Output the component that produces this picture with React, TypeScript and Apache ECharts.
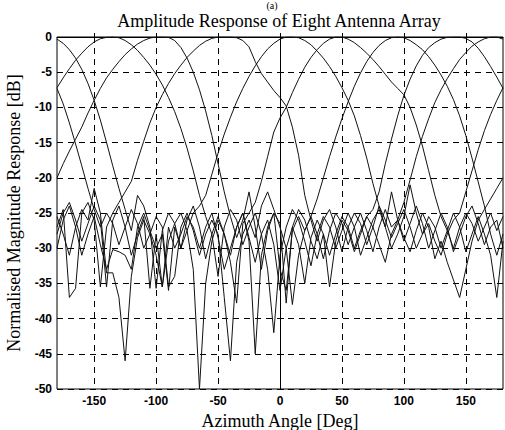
import React, { useEffect, useRef } from "react";
import * as echarts from "echarts";

// Azimuth sampling (deg)
const angles = [
  -180, -175, -170, -165, -160, -155, -150, -145, -140, -135, -130, -125,
  -120, -115, -110, -105, -100, -95, -90, -85, -80, -75, -70, -65,
  -60, -55, -50, -45, -40, -35, -30, -25, -20, -15, -10, -5,
  0, 5, 10, 15, 20, 25, 30, 35, 40, 45, 50, 55,
  60, 65, 70, 75, 80, 85, 90, 95, 100, 105, 110, 115,
  120, 125, 130, 135, 140, 145, 150, 155, 160, 165, 170, 175,
  180,
];

// Normalised magnitude (dB) of each of the eight beams
const beamA = [
  -0.3, -0.9, -1.8, -3.0, -4.6, -6.6, -9.0, -11.8, -15, -18.3, -21.5, -24.5,
  -27.5, -22.5, -24, -27, -35.7, -27.5, -25, -26.5, -30, -26, -24, -27,
  -31.5, -28, -25.5, -28, -31, -27, -25, -28.5, -32, -28, -26, -29.5,
  -36, -30, -38, -31, -27.5, -25.5, -28, -31.5, -27.5, -25, -26.5, -29.5,
  -27, -25, -27.5, -30.5, -27, -24.5, -27, -26, -23.5, -20.3, -17.0, -14.1,
  -11.6, -9.3, -7.5, -5.9, -4.5, -3.2, -2.2, -1.3, -0.7, -0.25, 0, 0,
  -0.3,
];
const beamB = [
  -7.2, -5.8, -4.5, -3.3, -2.3, -1.4, -0.7, -0.25, -0.05, 0, -0.1, -0.5,
  -1.1, -1.9, -2.9, -4.0, -5.3, -6.8, -8.6, -10.6, -13, -15.8, -19, -22.5,
  -25.5, -28, -34, -27, -24.5, -26, -29.5, -27, -25, -28, -33, -42,
  -31, -27, -24.5, -26, -29, -32.5, -28, -25.5, -27, -30, -27.5, -25,
  -27, -31, -28.5, -26, -24.5, -27, -30, -28, -25.5, -21, -25, -28,
  -26.5, -29, -31, -28, -26, -25, -22, -19, -16, -13.3, -11, -9,
  -7.2,
];
const beamC = [
  -20, -18, -16.2, -14.5, -12.8, -10.8, -9.0, -7.3, -5.8, -4.6, -3.5, -2.5,
  -1.7, -1.0, -0.5, -0.15, 0, 0, -0.05, -0.5, -1.5, -3.0, -5.0, -7.5,
  -10.5, -14, -18, -22, -25.5, -28.5, -26, -22, -27, -33, -27.5, -25,
  -26.5, -37.8, -27, -24.5, -26, -29, -31.5, -28, -35.5, -29, -26, -27.5,
  -30.5, -28, -25.5, -27, -29.5, -32, -28, -26, -28.5, -30.5, -27.5, -25,
  -27, -31.5, -29, -32, -34.5, -37, -33, -29, -26, -24.5, -23, -21.5,
  -20,
];
const beamD = [
  -27, -24.5, -37, -35.7, -25, -23.5, -26, -35.5, -27, -25, -23.5, -22,
  -20.5, -17.5, -14.8, -12.2, -10, -8.2, -6.6, -5.2, -4.0, -2.9, -2.0, -1.2,
  -0.6, -0.2, 0, 0, 0, -0.1, -0.5, -1.4, -3.5, -5.2, -6.4, -7.6,
  -8.6, -9.8, -12.8, -16.8, -22.5, -26, -29, -26, -24.5, -27, -30.5, -27,
  -25, -26.5, -29.5, -27, -24, -26, -28.5, -26.5, -24.5, -27, -30, -28,
  -25.5, -27, -30, -27.5, -25, -27, -30.5, -28, -25.5, -28, -31, -37,
  -29,
];
const beamE = [
  -30, -26, -24, -27, -31, -28, -25.5, -29.5, -33, -30.2, -30.5, -31,
  -33, -27, -25, -27.5, -30, -28, -36, -27, -30, -27.5, -25, -24,
  -22.5, -19.5, -16.5, -13.8, -11.4, -9.2, -7.3, -5.6, -4.1, -2.8, -1.7, -0.9,
  -0.3, 0, 0, -0.1, -0.5, -1.1, -2.0, -3.0, -4.2, -5.6, -7.2, -9.0,
  -11.2, -14, -17.2, -20.8, -24, -27, -22, -26, -29, -26.5, -24, -26.5,
  -30, -27.5, -25, -27, -30.5, -28, -25.5, -24, -26.5, -29.5, -27, -26,
  -30,
];
const beamF = [
  -25.5, -28, -31, -27, -24.5, -26, -21.5, -25, -33.5, -33.5, -37, -46,
  -34, -28.5, -26, -28, -31, -35.5, -29, -26.5, -25, -27.5, -33, -50,
  -35, -29, -26, -28, -32, -37.8, -26.5, -25, -23.5, -20.5, -17, -13.5,
  -11.5, -10, -7.9, -6.0, -4.3, -2.9, -1.8, -0.9, -0.3, 0, 0, -0.3,
  -0.8, -1.5, -2.3, -3.2, -4.2, -5.3, -6.4, -7.3, -8.2, -10, -12.5, -15.5,
  -19, -22.5, -25.5, -27.5, -30, -27, -25, -26.5, -29, -27, -25, -27.5,
  -25.5,
];
const beamG = [
  -28, -25, -23.5, -26, -29, -26.5, -24, -26, -35.5, -26, -24, -27,
  -31, -28, -25.5, -35.7, -28, -35.5, -27, -30, -28, -25.5, -27, -30,
  -27, -25, -28.5, -33, -30, -27, -25, -29, -45, -31, -27, -25,
  -33, -36, -27.5, -25.5, -27.5, -25.5, -23, -20, -17, -14.2, -11.6, -9.2,
  -7.0, -5.1, -3.5, -2.2, -1.2, -0.5, -0.1, 0, -0.1, -0.5, -1.1, -1.8,
  -2.8, -4.0, -5.4, -7.0, -8.9, -11.2, -14, -17.2, -20.6, -24, -28, -31,
  -28,
];
const beamH = [
  -7.3, -9.5, -12.2, -15.2, -18.3, -21.5, -24.5, -27, -25, -26.5, -29.5, -27,
  -24.5, -26.5, -30, -28, -25.5, -27, -35.5, -34, -27, -25, -27.5, -31,
  -28, -26, -28, -37, -46, -32, -28, -26, -28.5, -24, -22, -24.5,
  -27, -30, -27, -29.5, -35, -28.5, -26, -28, -31, -28, -25.5, -27,
  -30, -27.5, -25.5, -24.5, -22, -18, -14.5, -11.2, -8.3, -6.0, -4.1, -2.6,
  -1.5, -0.8, -0.3, -0.05, 0, 0, -0.2, -0.7, -1.6, -2.8, -4.2, -5.7,
  -7.3,
];

const beams = [beamA, beamB, beamC, beamD, beamE, beamF, beamG, beamH];

const xTicks = [-150, -100, -50, 0, 50, 100, 150];
const xMin = -180;
const xMax = 180;
const yMin = -50;
const yMax = 0;
const yStep = 5;

const panelText = "(a)";
const titleText = "Amplitude Response of Eight Antenna Array";
const xName = "Azimuth Angle [Deg]";
const yName = "Normalised Magnitude Response [dB]";

export default function App() {
  const ref = useRef<HTMLDivElement>(null);

  useEffect(() => {
    document.body.style.margin = "0";
    if (!ref.current) return;
    const chart = echarts.init(ref.current, undefined, { renderer: "svg" });
    const serif = "'Liberation Serif', 'Times New Roman', serif";
    const sans = "'Liberation Sans', Arial, sans-serif";
    const dash = { color: "#000", width: 1, type: [6, 5] as number[] };

    chart.setOption({
      animation: false,
      backgroundColor: "#fff",
      grid: {
        left: 57,
        right: 2,
        top: 37,
        bottom: 41,
        outerBoundsMode: "none",
        containLabel: false,
        show: true,
        borderColor: "#000",
        borderWidth: 1,
        backgroundColor: "transparent",
      },
      graphic: [
        {
          type: "text",
          x: 279,
          y: 21,
          style: {
            text: titleText,
            font: `18px ${serif}`,
            fill: "#000",
            textAlign: "center",
            textVerticalAlign: "middle",
          },
        },
        {
          type: "text",
          x: 272,
          y: 0,
          style: {
            text: panelText,
            font: `10px ${serif}`,
            fill: "#000",
            textAlign: "center",
            textVerticalAlign: "top",
          },
        },
      ],
      xAxis: {
        type: "value",
        min: xMin,
        max: xMax,
        axisLine: { show: true, lineStyle: { color: "#000", width: 1 } },
        axisTick: {
          show: true,
          inside: true,
          length: 4,
          customValues: xTicks,
          lineStyle: { color: "#000" },
        },
        axisLabel: {
          customValues: xTicks,
          color: "#000",
          fontFamily: sans,
          fontWeight: "bold",
          fontSize: 12,
          margin: 6,
        },
        splitLine: { show: true, lineStyle: dash },
        name: xName,
        nameLocation: "middle",
        nameGap: 21,
        nameTextStyle: { fontFamily: serif, fontSize: 18, color: "#000" },
      },
      yAxis: {
        type: "value",
        min: yMin,
        max: yMax,
        interval: yStep,
        axisLine: { show: true, lineStyle: { color: "#000", width: 1 } },
        axisTick: { show: true, inside: true, length: 4, lineStyle: { color: "#000" } },
        axisLabel: {
          color: "#000",
          fontFamily: sans,
          fontWeight: "bold",
          fontSize: 12,
          margin: 5,
        },
        splitLine: { show: true, lineStyle: dash },
        name: yName,
        nameLocation: "middle",
        nameGap: 34,
        nameTextStyle: { fontFamily: serif, fontSize: 18, color: "#000" },
      },
      series: beams.map((b, k) => ({
        type: "line",
        name: "beam" + (k + 1),
        data: angles.map((a, i) => [a, b[i]]),
        showSymbol: false,
        symbol: "none",
        lineStyle: { color: "#111", width: 1 },
        clip: true,
        z: 3,
      })),
    });
    return () => chart.dispose();
  }, []);

  return <div ref={ref} style={{ width: 505, height: 430 }} />;
}
